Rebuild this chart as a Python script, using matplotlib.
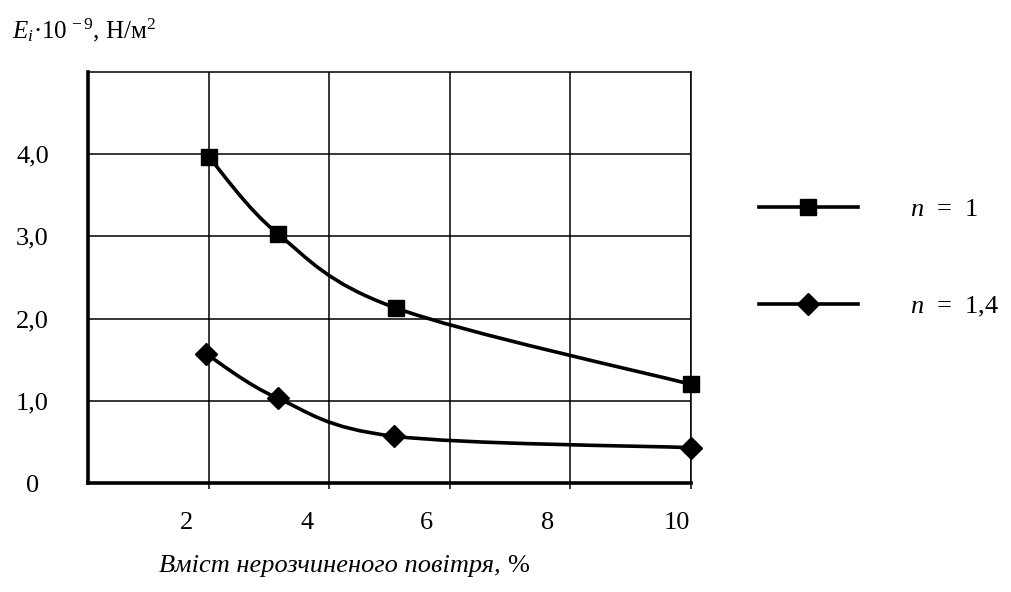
import numpy as np
import matplotlib.pyplot as plt
from matplotlib.path import Path
from matplotlib.patches import PathPatch
from matplotlib.lines import Line2D
from matplotlib.transforms import ScaledTranslation

plt.rcParams['font.family'] = ['Liberation Serif', 'DejaVu Serif']
plt.rcParams['mathtext.fontset'] = 'custom'
plt.rcParams['mathtext.rm'] = 'Liberation Serif'
plt.rcParams['mathtext.it'] = 'Liberation Serif:italic'

# data
air_n1 = [2.0, 3.15, 5.1, 10.0]
e_n1 = [3.97, 3.03, 2.13, 1.20]
air_n14 = [1.96, 3.15, 5.07, 10.0]
e_n14 = [1.57, 1.03, 0.57, 0.43]
xticks = [2, 4, 6, 8, 10]
yticks = [0, 1, 2, 3, 4]
ytick_labels = ['0', '1,0', '2,0', '3,0', '4,0']
labels = ['$n$  =  1', '$n$  =  1,4']

fs = 19


def smooth_path(xs, ys):
  # excel-like smoothed line: catmull-rom turned into cubic bezier
  pts = np.column_stack([xs, ys]).astype(float)
  n = len(pts)
  verts = [pts[0]]
  codes = [Path.MOVETO]
  for i in range(n - 1):
    p0 = pts[max(i - 1, 0)]
    p1 = pts[i]
    p2 = pts[i + 1]
    p3 = pts[min(i + 2, n - 1)]
    c1 = p1 + (p2 - p0) / 6
    c2 = p2 - (p3 - p1) / 6
    verts += [c1, c2, p2]
    codes += [Path.CURVE4] * 3
  return Path(verts, codes)


fig = plt.figure(figsize=(10.12, 5.92), dpi=100)
ax = fig.add_axes([88/1012, 109/592, 603/1012, 411/592])

for xs, ys, mk in [(air_n1, e_n1, 's'), (air_n14, e_n14, 'D')]:
  ax.add_patch(PathPatch(smooth_path(xs, ys), fill=False, lw=2.6, ec='black', zorder=3, clip_on=False))
  ax.plot(xs, ys, ls='none', marker=mk, ms=11.5, color='black', zorder=4, clip_on=False)

ax.set_xlim(0, 10)
ax.set_ylim(0, 5)
ax.set_xticks(xticks)
ax.set_xticklabels([str(v) for v in xticks])
ax.set_yticks(yticks)
ax.set_yticklabels(ytick_labels)
ax.grid(True, color='black', lw=1.1)
ax.set_axisbelow(True)
for s in ['top', 'right']:
  ax.spines[s].set_linewidth(1.1)
for s in ['left', 'bottom']:
  ax.spines[s].set_linewidth(2.6)
ax.tick_params(axis='x', length=4, width=1.1, direction='out', pad=17, labelsize=fs)
ax.tick_params(axis='y', length=0, pad=40, labelsize=fs)
for lab in ax.get_yticklabels():
  lab.set_horizontalalignment('center')
# x labels sit a bit left of their grid lines in the original
shifts = [-22, -22, -23, -23, -14]
for lab, dx in zip(ax.get_xticklabels(), shifts):
  lab.set_transform(lab.get_transform() + ScaledTranslation(dx/100, 0, fig.dpi_scale_trans))

fig.text(12/1012, 1 - 30/592, r'$E_i$·10$^{\,-9}$, Н/м$^2$', fontsize=18, va='center', ha='left')

t = fig.text(159/1012, 1 - 566/592, 'Вміст нерозчиненого повітря, ', fontsize=fs, style='italic',
             va='center', ha='left')
ax.annotate('%', xy=(1, 0), xycoords=t, va='bottom', ha='left', fontsize=fs)

handles = [Line2D([], [], color='black', lw=2.6, marker='s', ms=11.5),
           Line2D([], [], color='black', lw=2.6, marker='D', ms=11.5)]
fig.legend(handles, labels, loc='upper left', bbox_to_anchor=(735/1012, 1 - 174/592),
           frameon=False, fontsize=fs, handlelength=3.75, handletextpad=2.0,
           labelspacing=2.8, markerscale=1.0)

fig.savefig('out.png', dpi=100)
